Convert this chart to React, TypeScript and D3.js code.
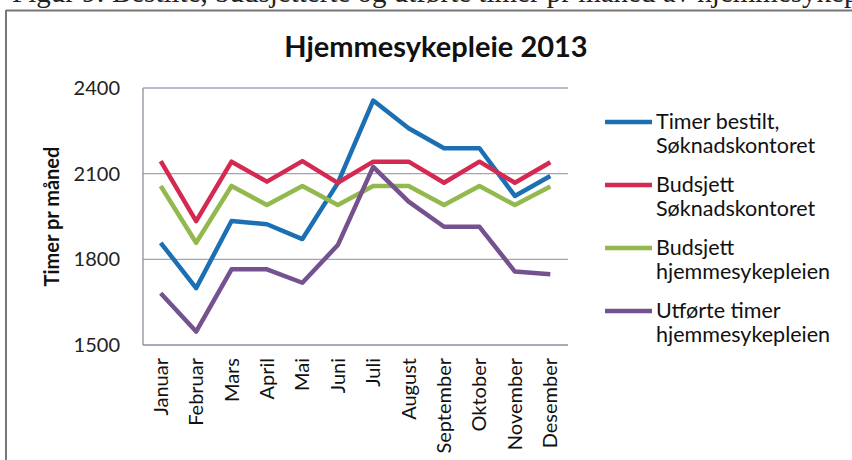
import React from "react";
import * as d3 from "d3";

const months = ["Januar","Februar","Mars","April","Mai","Juni","Juli","August","September","Oktober","November","Desember"];
const timerBestilt = [1858,1699,1934,1923,1871,2067,2356,2259,2189,2189,2022,2092];
const budsjettSok = [2144,1934,2142,2072,2144,2068,2142,2142,2068,2142,2068,2140];
const budsjettHjem = [2057,1858,2057,1990,2057,1990,2057,2057,1990,2057,1990,2055];
const utforteTimer = [1681,1547,1765,1765,1718,1850,2124,2002,1914,1914,1757,1748];
const yTicks = [1500,1800,2100,2400];
const seriesNames = [["Timer bestilt,","Søknadskontoret"],["Budsjett","Søknadskontoret"],["Budsjett","hjemmesykepleien"],["Utførte timer","hjemmesykepleien"]];
const seriesColors = ["#1c6fb2","#d42a52","#93b84e","#74518f"];
const title = "Hjemmesykepleie 2013";
const yTitle = "Timer pr måned";
const caption = "Figur 9: Bestilte, budsjetterte og utførte timer pr måned av hjemmesykepleie";

const W = 852, H = 460;
const plot = { left: 143, right: 568, top: 88, bottom: 345 };
const font = "Lato, 'Open Sans', sans-serif";

export default function App() {
  const x = d3.scaleBand<string>().domain(months).range([plot.left, plot.right]);
  const y = d3.scaleLinear().domain([1500, 2400]).range([plot.bottom, plot.top]);
  const line = d3.line<number>().x((_, i) => (x(months[i]) as number) + x.bandwidth() / 2).y(d => y(d));
  const all = [timerBestilt, budsjettSok, budsjettHjem, utforteTimer];
  return (
    <div style={{ position: "absolute", left: 0, top: 0 }}>
      <svg width={W} height={H} style={{ display: "block", background: "#fff" }}>
        <text x={12} y={2} fontFamily="'Liberation Serif', 'DejaVu Serif', serif" fontSize={29} fill="#222">{caption}</text>
        <line x1={6} x2={W} y1={10.5} y2={10.5} stroke="#777" strokeWidth={2} />
        <line x1={6} x2={6} y1={10} y2={H} stroke="#777" strokeWidth={2} />
        <text x={436} y={57} textAnchor="middle" fontFamily={font} fontWeight={700} fontSize={29} fill="#111">{title}</text>
        {yTicks.map(t => (
          <g key={t}>
            {t !== 1500 && <line x1={plot.left} x2={plot.right} y1={y(t)} y2={y(t)} stroke="#a3a3b3" strokeWidth={1.3} />}
            <text x={120} y={y(t)} dy="0.35em" textAnchor="end" fontFamily={font} fontSize={20} fill="#222">{t}</text>
          </g>
        ))}
        <line x1={plot.left} x2={plot.left} y1={plot.top} y2={plot.bottom} stroke="#8e8e9e" strokeWidth={1.3} />
        <line x1={plot.left} x2={plot.right} y1={plot.bottom} y2={plot.bottom} stroke="#8e8e9e" strokeWidth={1.3} />
        <text transform={`translate(52,${(plot.top + plot.bottom) / 2}) rotate(-90)`} dy="0.35em" textAnchor="middle" fontFamily={font} fontWeight={700} fontSize={20} fill="#111">{yTitle}</text>
        {months.map(m => (
          <text key={m} transform={`translate(${(x(m) as number) + x.bandwidth() / 2},358) rotate(-90)`} dy="0.35em" textAnchor="end" fontFamily={font} fontSize={20} fill="#111">{m}</text>
        ))}
        {all.map((s, i) => (
          <path key={i} d={line(s) || ""} fill="none" stroke={seriesColors[i]} strokeWidth={4.5} strokeLinejoin="round" />
        ))}
        {seriesNames.map((n, i) => {
          const ly = 122 + i * 63;
          return (
            <g key={i}>
              <line x1={605} x2={652} y1={ly} y2={ly} stroke={seriesColors[i]} strokeWidth={4.5} />
              <text x={656} y={ly + 7} fontFamily={font} fontSize={21.5} fill="#111">
                <tspan x={656}>{n[0]}</tspan>
                <tspan x={656} dy={24}>{n[1]}</tspan>
              </text>
            </g>
          );
        })}
      </svg>
    </div>
  );
}
